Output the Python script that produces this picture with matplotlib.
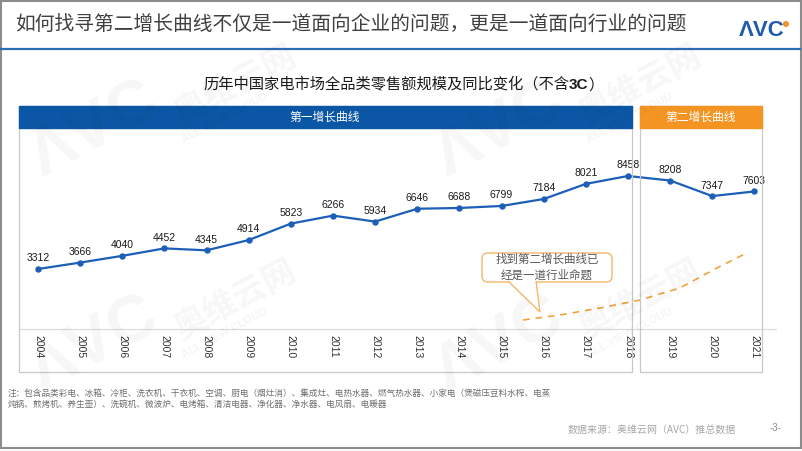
import matplotlib.pyplot as plt
from matplotlib.patches import Rectangle, FancyBboxPatch, Polygon, Circle
from matplotlib.lines import Line2D
from matplotlib.transforms import Affine2D

# data
years = [2004, 2005, 2006, 2007, 2008, 2009, 2010, 2011, 2012,
         2013, 2014, 2015, 2016, 2017, 2018, 2019, 2020, 2021]
sales = [3312, 3666, 4040, 4452, 4345, 4914, 5823, 6266, 5934,
         6646, 6688, 6799, 7184, 8021, 8458, 8208, 7347, 7603]
# hand drawn dashed "second curve"
trend_years = [2015.51, 2016.39, 2017.34, 2018.29, 2019.23, 2020.11, 2020.82]
trend_values = [490, 767, 1154, 1597, 2261, 3367, 4197]

title = '如何找寻第二增长曲线不仅是一道面向企业的问题，更是一道面向行业的问题'
chart_title = ['历年中国家电市场全品类零售额规模及同比变化（不含', '3C', '）']
phase_labels = ['第一增长曲线', '第二增长曲线']
callout = '找到第二增长曲线已\n经是一道行业命题'
note = ('注：包含品类彩电、冰箱、冷柜、洗衣机、干衣机、空调、厨电（烟灶消）、集成灶、电热水器、燃气热水器、小家电（煲磁压豆料水榨、电蒸\n'
        '炖锅、煎烤机、养生壶）、洗碗机、微波炉、电烤箱、清洁电器、净化器、净水器、电风扇、电暖器')
source = '数据来源：奥维云网（AVC）推总数据'

CJK = ['Noto Sans CJK SC', 'DejaVu Sans']
NUM = ['Liberation Sans', 'DejaVu Sans']
BLUE = '#0B57A6'
LINE_BLUE = '#1D5FB8'
ORANGE = '#F0932B'

W, H = 802, 451
fig = plt.figure(figsize=(W / 100, H / 100), dpi=100)
fig.patch.set_facecolor('white')
# pixel coordinates, y pointing down
pix = Affine2D().scale(1 / W, -1 / H).translate(0, 1) + fig.transFigure


def box(x0, y0, x1, y1, **kw):
    fig.add_artist(Rectangle((x0, y0), x1 - x0, y1 - y0, transform=pix, **kw))


def txt(x, y, s, **kw):
    kw.setdefault('family', CJK)
    return fig.text(x, y, s, transform=pix, **kw)


# faint watermarks
for ox, oy in [(0, 0), (405, 0), (0, 215), (405, 215)]:
    txt(95 + ox, 130 + oy, 'ΛVC', fontsize=48, fontweight='bold', family=NUM,
        color='#000000', alpha=0.035, rotation=28, ha='center', va='center')
    txt(235 + ox, 85 + oy, '奥维云网', fontsize=24, fontweight='bold',
        color='#000000', alpha=0.035, rotation=28, ha='center', va='center')
    txt(225 + ox, 118 + oy, 'ALL VIEW CLOUD', fontsize=8, fontweight='bold', family=NUM,
        color='#000000', alpha=0.045, rotation=28, ha='center', va='center')

# frame + header
box(1, 0.8, 800.5, 448, fill=False, edgecolor='#8C8C8C', lw=1.5)
fig.add_artist(Line2D([1, 800], [49, 49], transform=pix, color='#2E6DB4', lw=1.6))
txt(15, 25, title, fontsize=14.2, fontweight='light', color='#404040', va='center', ha='left')
txt(762, 30, 'ΛVC', family=NUM, fontsize=16, fontweight='bold',
    color='#1F5AAE', ha='center', va='center')
fig.add_artist(Circle((786, 24), 2.3, transform=pix, color=ORANGE))

# chart title with bold "3C"
renderer = fig.canvas.get_renderer()
x = 203
for i, part in enumerate(chart_title):
    t = txt(x, 85, part, fontsize=11, color='#1A1A1A', ha='left', va='center',
            fontweight='bold' if part == '3C' else 'normal',
            family=NUM if part == '3C' else CJK)
    x += t.get_window_extent(renderer).width

# panels
box(19, 106, 632, 372, fill=False, edgecolor='#C8C8C8', lw=0.9)
box(640, 106, 762, 372, fill=False, edgecolor='#C8C8C8', lw=0.9)
box(19, 106, 632, 127.5, color=BLUE)
box(640, 106, 762, 127.5, color='#F39423')
txt(325, 117, phase_labels[0], fontsize=8.5, color='white', ha='center', va='center')
txt(701, 117, phase_labels[1], fontsize=8.5, color='white', ha='center', va='center')

# chart axes
ax = fig.add_axes([19 / W, 1 - 329 / H, (776 - 19) / W, (329 - 106) / H])
ax.patch.set_alpha(0)
ax.set_xlim(2003.549, 2021.513)
ax.set_ylim(-8, 12331)
for s in ['top', 'left', 'right']:
    ax.spines[s].set_visible(False)
ax.spines['bottom'].set_color('#DADADA')
ax.spines['bottom'].set_linewidth(0.8)
ax.set_yticks([])
ax.set_xticks(years)
ax.set_xticklabels([str(y) for y in years], rotation=270, fontsize=7.5,
                   family=NUM, color='#333333')
ax.tick_params(axis='x', length=0, pad=4.5)

ax.plot(years, sales, color=LINE_BLUE, lw=1.6, marker='o', markersize=3.6, zorder=3)
for y, v in zip(years, sales):
    ax.annotate(str(v), (y, v), xytext=(0, 4), textcoords='offset points',
                ha='center', va='bottom', fontsize=7.5, family=NUM, color='#1A1A1A')

ax.plot(trend_years, trend_values, color='#F2A23C', lw=1.2, dashes=(4, 3.5), zorder=2)

# callout
fig.add_artist(FancyBboxPatch((482, 253), 130, 29, transform=pix,
                              boxstyle='round,pad=0,rounding_size=6',
                              facecolor='white', edgecolor='#F4B66C', lw=1.0, zorder=4))
fig.add_artist(Polygon([(508, 281), (540, 312), (536, 281)], closed=False, transform=pix,
                       facecolor='white', edgecolor='#F4B66C', lw=1.0, zorder=5))
txt(547, 267.5, callout, fontsize=8.3, color='#595959', ha='center', va='center',
    linespacing=1.35, zorder=6)

# footer
txt(8, 399, note, fontsize=6.2, color='#6E6E6E', ha='left', va='center', linespacing=1.3)
txt(736, 430, source, fontsize=7.2, color='#A6A6A6', ha='right', va='center')
txt(776, 428, '-3-', family=NUM, fontsize=7, color='#8C8C8C', ha='center', va='center')

fig.savefig('out.png', dpi=100, facecolor='white')
